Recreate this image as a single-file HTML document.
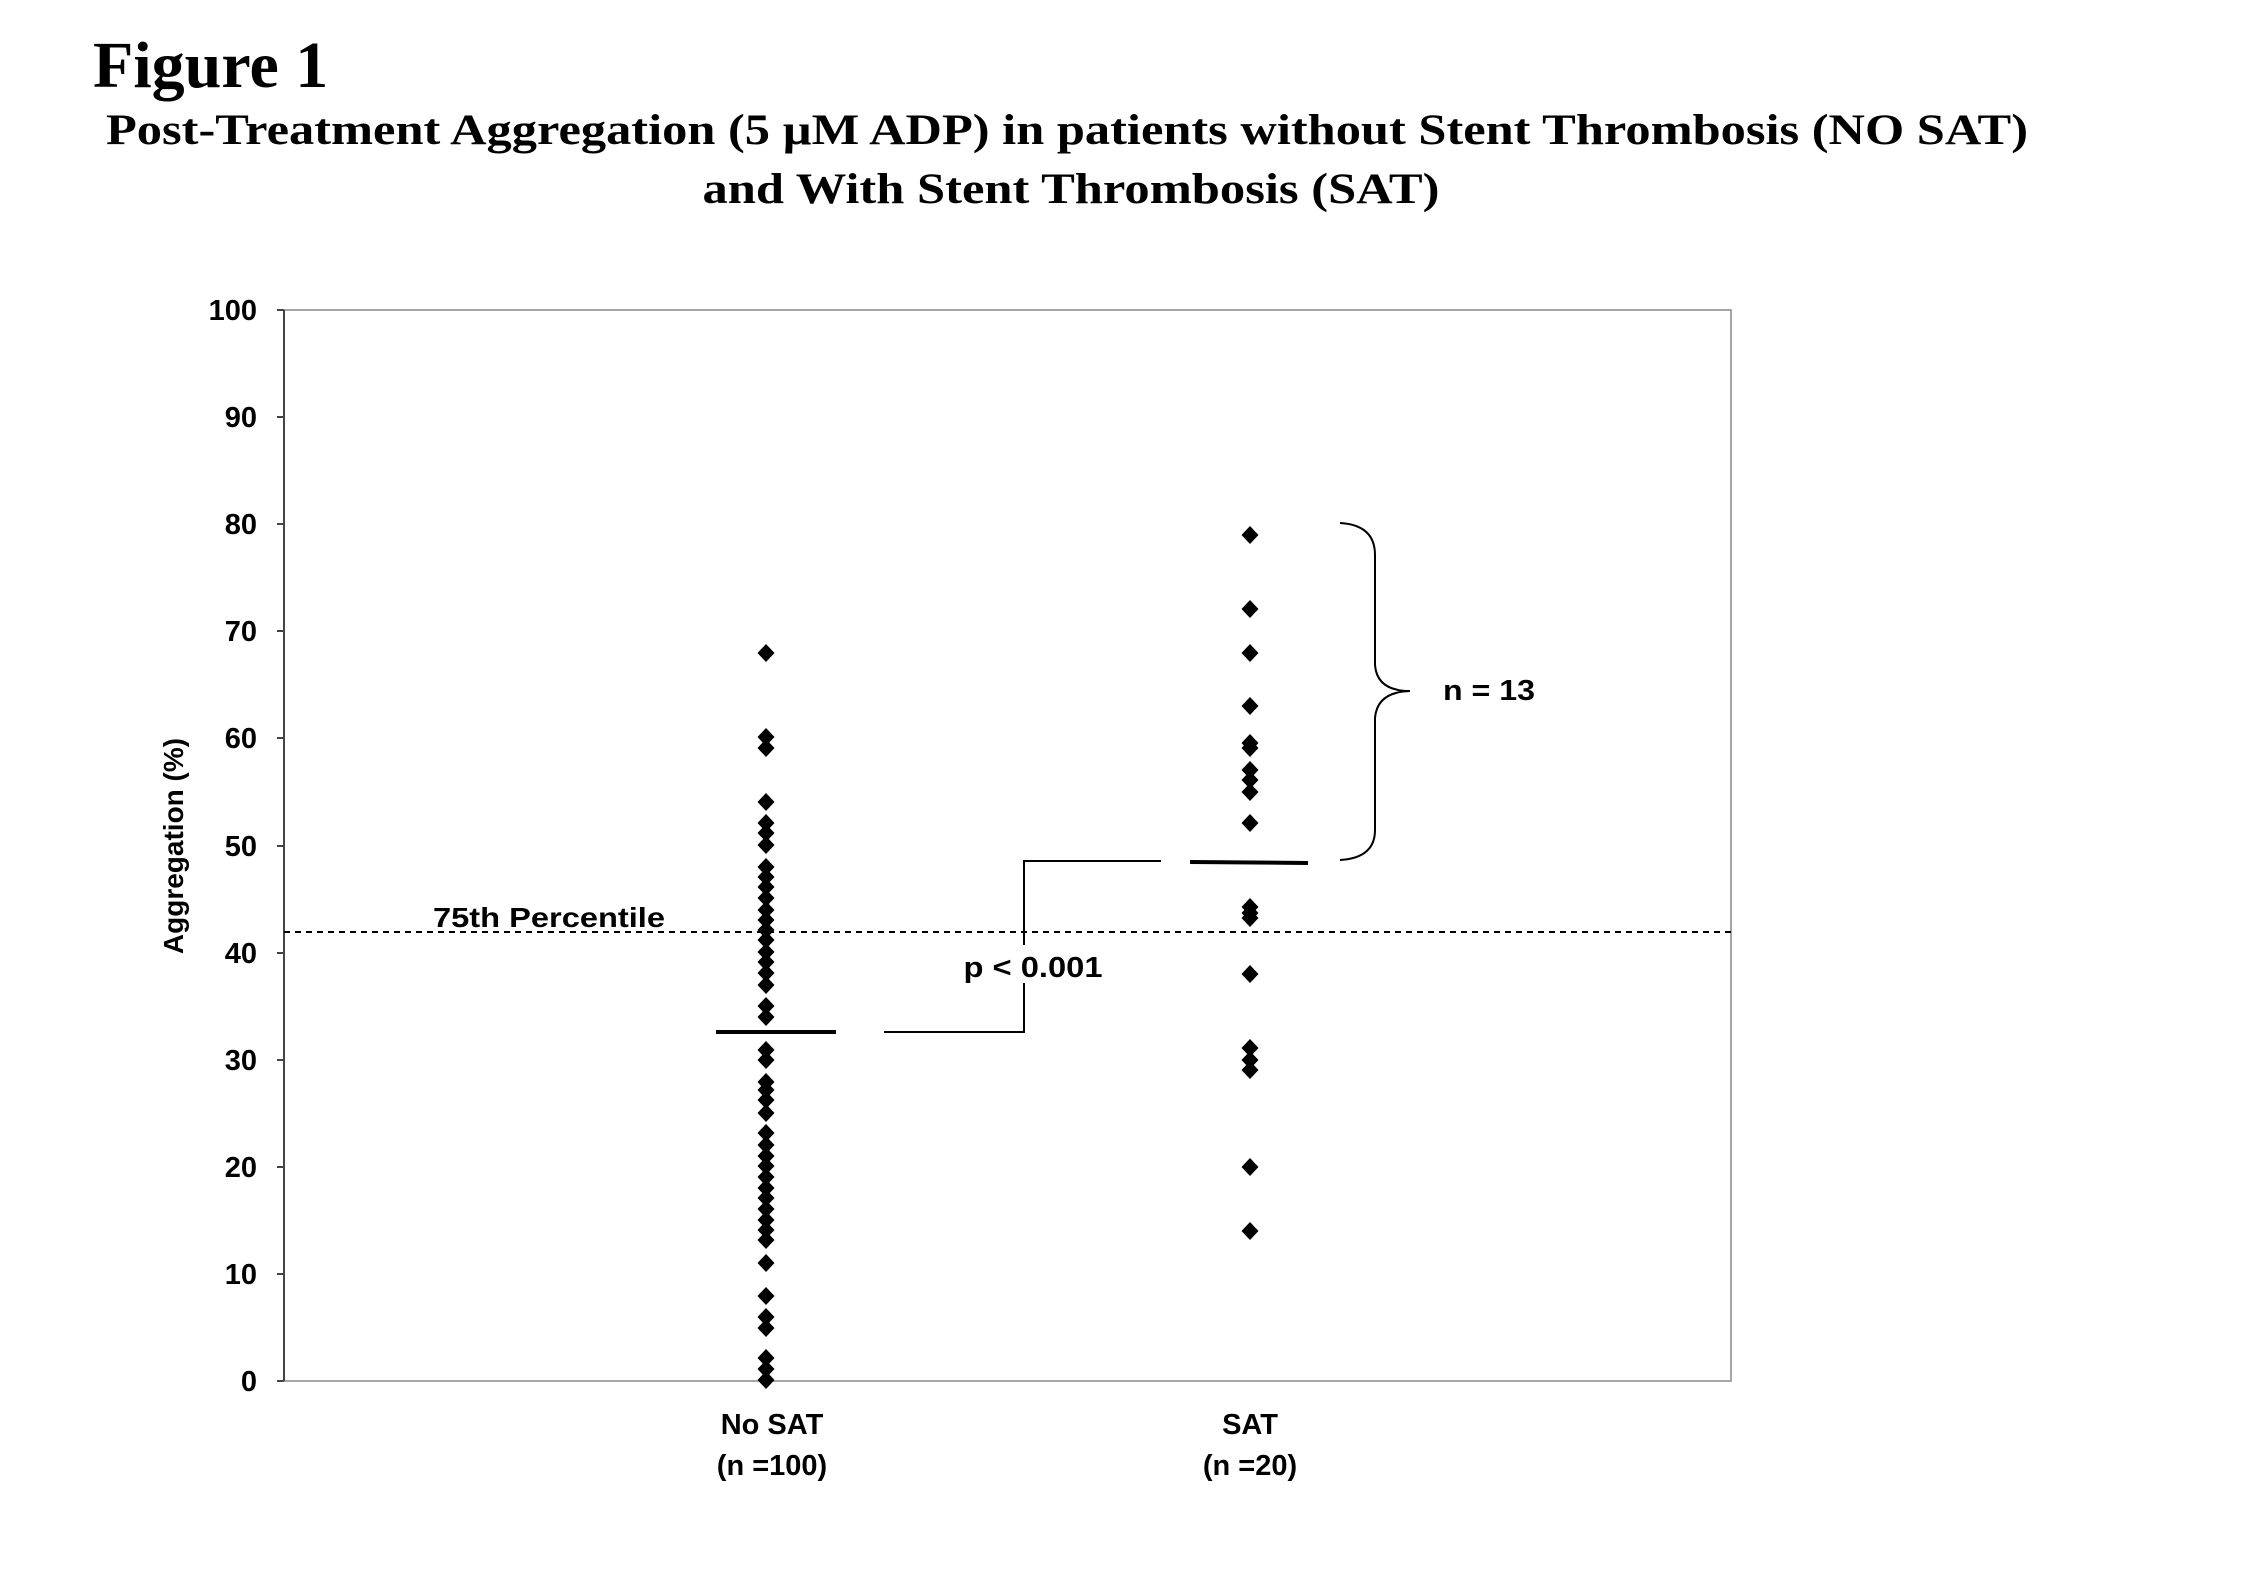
<!DOCTYPE html>
<html><head><meta charset="utf-8"><style>
html,body{margin:0;padding:0;background:#fff;}
svg{display:block;}
</style></head><body>
<svg width="2251" height="1577" viewBox="0 0 2251 1577" xmlns="http://www.w3.org/2000/svg">
<defs><path id="d" d="M0,-9 L8.5,0 L0,9 L-8.5,0 Z" fill="#000"/></defs>
<g font-family="'Liberation Serif', serif" font-weight="bold" fill="#000">
<text x="93" y="87" font-size="66">Figure 1</text>
<text x="1067" y="144" font-size="43" text-anchor="middle" textLength="1922" lengthAdjust="spacingAndGlyphs">Post-Treatment Aggregation (5 µM ADP) in patients without Stent Thrombosis (NO SAT)</text>
<text x="1071" y="203" font-size="43" text-anchor="middle" textLength="737" lengthAdjust="spacingAndGlyphs">and With Stent Thrombosis (SAT)</text>
</g>
<rect x="284" y="310" width="1447" height="1071" fill="none" stroke="#888" stroke-width="1.5"/>
<line x1="284" y1="310" x2="284" y2="1381" stroke="#444" stroke-width="2"/>
<g stroke="#444" stroke-width="2">
<line x1="277" y1="310" x2="284" y2="310"/><line x1="277" y1="417" x2="284" y2="417"/><line x1="277" y1="524" x2="284" y2="524"/><line x1="277" y1="631" x2="284" y2="631"/><line x1="277" y1="738" x2="284" y2="738"/><line x1="277" y1="846" x2="284" y2="846"/><line x1="277" y1="953" x2="284" y2="953"/><line x1="277" y1="1060" x2="284" y2="1060"/><line x1="277" y1="1167" x2="284" y2="1167"/><line x1="277" y1="1274" x2="284" y2="1274"/><line x1="277" y1="1381" x2="284" y2="1381"/>
</g>
<g font-family="'Liberation Sans', sans-serif" font-weight="bold" font-size="29" text-anchor="end" fill="#000">
<text x="257" y="320">100</text><text x="257" y="427">90</text><text x="257" y="534">80</text><text x="257" y="641">70</text><text x="257" y="748">60</text><text x="257" y="856">50</text><text x="257" y="963">40</text><text x="257" y="1070">30</text><text x="257" y="1177">20</text><text x="257" y="1284">10</text><text x="257" y="1391">0</text>
</g>
<text transform="translate(183,846) rotate(-90)" font-family="'Liberation Sans', sans-serif" font-weight="bold" font-size="28" text-anchor="middle">Aggregation (%)</text>
<line x1="284" y1="932" x2="1731" y2="932" stroke="#000" stroke-width="2" stroke-dasharray="6,5"/>
<text x="433" y="927" font-family="'Liberation Sans', sans-serif" font-weight="bold" font-size="28" textLength="232" lengthAdjust="spacingAndGlyphs">75th Percentile</text>
<g>
<use href="#d" x="766" y="653"/><use href="#d" x="766" y="737"/><use href="#d" x="766" y="748"/><use href="#d" x="766" y="802"/><use href="#d" x="766" y="823"/><use href="#d" x="766" y="833"/><use href="#d" x="766" y="845"/><use href="#d" x="766" y="867"/><use href="#d" x="766" y="877"/><use href="#d" x="766" y="887"/><use href="#d" x="766" y="898"/><use href="#d" x="766" y="910"/><use href="#d" x="766" y="920"/><use href="#d" x="766" y="930"/><use href="#d" x="766" y="940"/><use href="#d" x="766" y="952"/><use href="#d" x="766" y="962"/><use href="#d" x="766" y="973"/><use href="#d" x="766" y="985"/><use href="#d" x="766" y="1006"/><use href="#d" x="766" y="1017"/><use href="#d" x="766" y="1050"/><use href="#d" x="766" y="1060"/><use href="#d" x="766" y="1082"/><use href="#d" x="766" y="1090"/><use href="#d" x="766" y="1100"/><use href="#d" x="766" y="1113"/><use href="#d" x="766" y="1133"/><use href="#d" x="766" y="1145"/><use href="#d" x="766" y="1156"/><use href="#d" x="766" y="1166"/><use href="#d" x="766" y="1177"/><use href="#d" x="766" y="1188"/><use href="#d" x="766" y="1198"/><use href="#d" x="766" y="1209"/><use href="#d" x="766" y="1220"/><use href="#d" x="766" y="1230"/><use href="#d" x="766" y="1240"/><use href="#d" x="766" y="1263"/><use href="#d" x="766" y="1296"/><use href="#d" x="766" y="1317"/><use href="#d" x="766" y="1328"/><use href="#d" x="766" y="1358"/><use href="#d" x="766" y="1369"/><use href="#d" x="766" y="1380"/>
<use href="#d" x="1250" y="535"/><use href="#d" x="1250" y="609"/><use href="#d" x="1250" y="653"/><use href="#d" x="1250" y="706"/><use href="#d" x="1250" y="743"/><use href="#d" x="1250" y="748"/><use href="#d" x="1250" y="770"/><use href="#d" x="1250" y="780"/><use href="#d" x="1250" y="792"/><use href="#d" x="1250" y="823"/><use href="#d" x="1250" y="907"/><use href="#d" x="1250" y="913"/><use href="#d" x="1250" y="918"/><use href="#d" x="1250" y="974"/><use href="#d" x="1250" y="1048"/><use href="#d" x="1250" y="1060"/><use href="#d" x="1250" y="1070"/><use href="#d" x="1250" y="1167"/><use href="#d" x="1250" y="1231"/>
</g>
<line x1="716" y1="1032" x2="836" y2="1032" stroke="#000" stroke-width="4"/>
<line x1="1190" y1="862" x2="1308" y2="863" stroke="#000" stroke-width="4"/>
<polyline points="884,1032 1024,1032 1024,983" fill="none" stroke="#000" stroke-width="2"/>
<polyline points="1024,945 1024,861 1161,861" fill="none" stroke="#000" stroke-width="2"/>
<text x="1033" y="977" font-family="'Liberation Sans', sans-serif" font-weight="bold" font-size="29" text-anchor="middle" textLength="139" lengthAdjust="spacingAndGlyphs">p &lt; 0.001</text>
<path d="M1340,523 Q1375,525 1375,555 L1375,665 Q1377,691 1410,691 Q1377,692 1375,718 L1375,830 Q1375,858 1340,860" fill="none" stroke="#000" stroke-width="2"/>
<text x="1443" y="700" font-family="'Liberation Sans', sans-serif" font-weight="bold" font-size="29" textLength="92" lengthAdjust="spacingAndGlyphs">n = 13</text>
<g font-family="'Liberation Sans', sans-serif" font-weight="bold" font-size="29" text-anchor="middle">
<text x="772" y="1434">No SAT</text><text x="772" y="1475">(n =100)</text>
<text x="1250" y="1434">SAT</text><text x="1250" y="1475">(n =20)</text>
</g>
</svg>
</body></html>
